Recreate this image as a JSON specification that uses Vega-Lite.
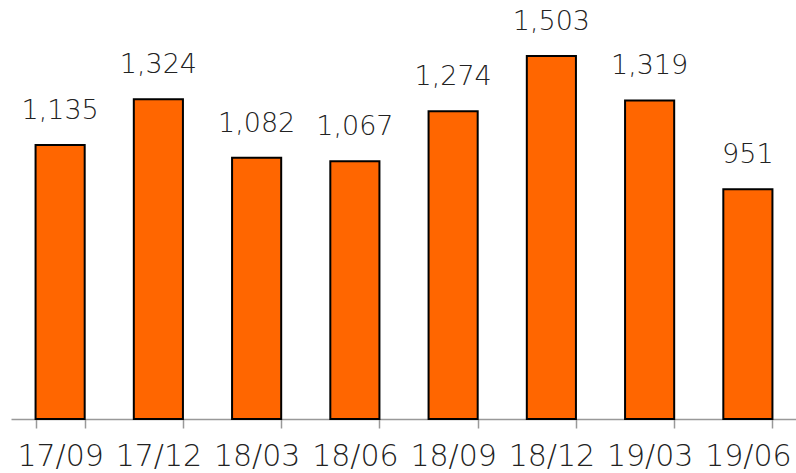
{
  "$schema": "https://vega.github.io/schema/vega-lite/v6.json",
  "width": 786,
  "height": 419,
  "autosize": {"type": "none"},
  "padding": {"left": 11, "top": 0, "right": 0, "bottom": 54},
  "background": "white",
  "config": {
    "view": {"stroke": null},
    "font": "DejaVu Sans"
  },
  "data": {
    "values": [
      {"period": "17/09", "value": 1135},
      {"period": "17/12", "value": 1324},
      {"period": "18/03", "value": 1082},
      {"period": "18/06", "value": 1067},
      {"period": "18/09", "value": 1274},
      {"period": "18/12", "value": 1503},
      {"period": "19/03", "value": 1319},
      {"period": "19/06", "value": 951}
    ]
  },
  "encoding": {
    "x": {
      "field": "period",
      "type": "ordinal",
      "sort": null,
      "scale": {"paddingInner": 0.5, "paddingOuter": 0.25},
      "axis": {
        "title": null,
        "labelAngle": 0,
        "ticks": true,
        "tickBand": "extent",
        "domainColor": "#999999",
        "domainWidth": 1.5,
        "tickColor": "#999999",
        "tickWidth": 1.5,
        "tickSize": 9,
        "tickOpacity": 1,
        "labelFont": "DejaVu Sans",
        "labelFontSize": 30,
        "labelFontWeight": 300,
        "labelColor": "#222222",
        "labelPadding": 37,
        "labelBaseline": "alphabetic"
      }
    },
    "y": {
      "field": "value",
      "type": "quantitative",
      "scale": {"domain": [0, 1735], "nice": false},
      "axis": null
    }
  },
  "layer": [
    {
      "mark": {"type": "bar", "fill": "#FF6600", "stroke": "#000000", "strokeWidth": 2}
    },
    {
      "mark": {
        "type": "text",
        "baseline": "alphabetic",
        "dy": -26,
        "fontSize": 27,
        "fontWeight": 300,
        "color": "#222222",
        "font": "DejaVu Sans"
      },
      "encoding": {
        "text": {"field": "value", "type": "quantitative", "format": ","}
      }
    }
  ]
}
